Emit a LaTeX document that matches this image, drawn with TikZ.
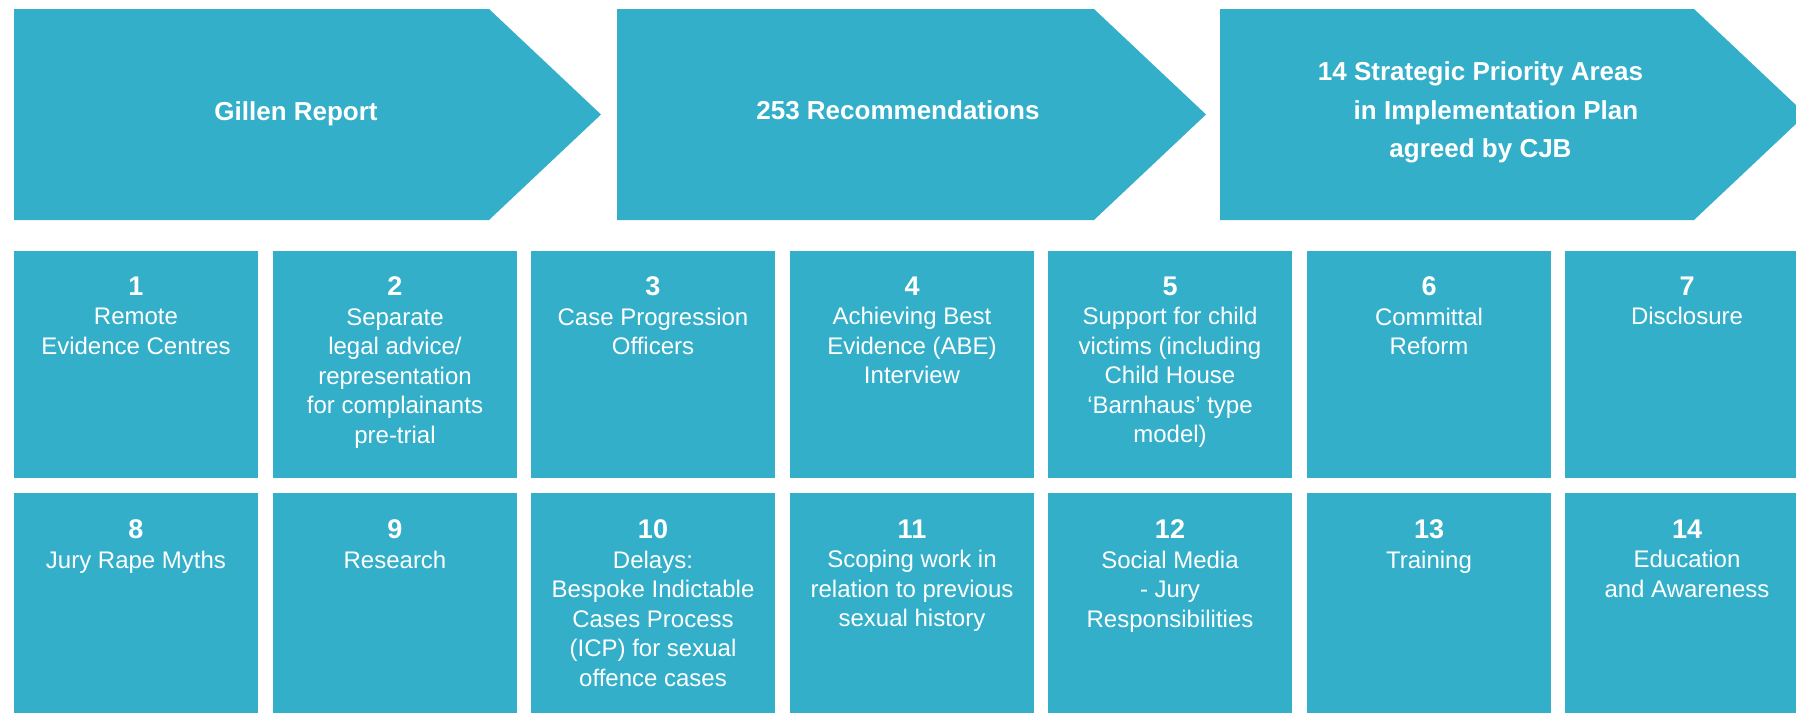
\documentclass[tikz,border=0pt]{standalone}
\usepackage{fontspec}
\setmainfont{Liberation Sans}
\usetikzlibrary{calc}
\definecolor{tealbox}{RGB}{51,175,201}
\newcommand\cellnum[1]{{\bfseries\fontsize{27}{29.5}\selectfont #1}}
\begin{document}
\begin{tikzpicture}[x=1pt,y=-1pt,
  arrowshape/.style={fill=tealbox, draw=none},
  cell/.style={rectangle, fill=tealbox, draw=none, minimum width=244pt, minimum height=227pt, inner sep=0pt, outer sep=0pt, anchor=north west},
  celltext/.style={anchor=north, inner sep=0pt, text=white, align=center, font=\fontsize{24}{29.5}\selectfont},
  titletext/.style={inner sep=0pt, text=white, align=center, font=\bfseries\fontsize{26}{38.5}\selectfont}]
\useasboundingbox (0,0) rectangle (1796,712);
\clip (0,0) rectangle (1796,712);

% chevron arrows
\fill[arrowshape] (14,9) -- (489,9) -- (601,114.5) -- (489,220) -- (14,220) -- cycle;
\fill[arrowshape] (617,9) -- (1094,9) -- (1206,114.5) -- (1094,220) -- (617,220) -- cycle;
\fill[arrowshape] (1220,9) -- (1694,9) -- (1806,114.5) -- (1694,220) -- (1220,220) -- cycle;
\node[titletext, anchor=base] (t1) at (296,120.5) {Gillen Report};
\node[titletext, anchor=base] (t2) at (898,119.5) {253 Recommendations};
\node[titletext, anchor=north] (t3) at (1480.5,61.5) {14 Strategic Priority Areas\\\hspace*{31pt}in Implementation Plan\\agreed by CJB};

% row 1
\node[cell] (b1) at (14,251) {};
\node[cell] (b2) at (273,251) {};
\node[cell] (b3) at (531,251) {};
\node[cell] (b4) at (790,251) {};
\node[cell] (b5) at (1048,251) {};
\node[cell] (b6) at (1307,251) {};
\node[cell] (b7) at (1565,251) {};
% row 2
\node[cell] (b8) at (14,493) {};
\node[cell] (b9) at (273,493) {};
\node[cell] (b10) at (531,493) {};
\node[cell] (b11) at (790,493) {};
\node[cell] (b12) at (1048,493) {};
\node[cell] (b13) at (1307,493) {};
\node[cell] (b14) at (1565,493) {};

\node[celltext] (l1) at ($(b1.north)+(0,25.5)$) {\cellnum{1}\\Remote\\Evidence Centres};
\node[celltext] (l2) at ($(b2.north)+(0,25.5)$) {\cellnum{2}\\Separate\\legal advice/\\representation\\for complainants\\pre-trial};
\node[celltext] (l3) at ($(b3.north)+(0,25.5)$) {\cellnum{3}\\Case Progression\\Officers};
\node[celltext] (l4) at ($(b4.north)+(0,25.5)$) {\cellnum{4}\\Achieving Best\\Evidence (ABE)\\Interview};
\node[celltext] (l5) at ($(b5.north)+(0,25.5)$) {\cellnum{5}\\Support for child\\victims (including\\Child House\\‘Barnhaus’ type\\model)};
\node[celltext] (l6) at ($(b6.north)+(0,25.5)$) {\cellnum{6}\\Committal\\Reform};
\node[celltext] (l7) at ($(b7.north)+(0,25.5)$) {\cellnum{7}\\Disclosure};

\node[celltext] (l8) at ($(b8.north)+(0,26.5)$) {\cellnum{8}\\Jury Rape Myths};
\node[celltext] (l9) at ($(b9.north)+(0,26.5)$) {\cellnum{9}\\Research};
\node[celltext] (l10) at ($(b10.north)+(0,26.5)$) {\cellnum{10}\\Delays:\\Bespoke Indictable\\Cases Process\\(ICP) for sexual\\offence cases};
\node[celltext] (l11) at ($(b11.north)+(0,26.5)$) {\cellnum{11}\\Scoping work in\\relation to previous\\sexual history};
\node[celltext] (l12) at ($(b12.north)+(0,26.5)$) {\cellnum{12}\\Social Media\\- Jury\\Responsibilities};
\node[celltext] (l13) at ($(b13.north)+(0,26.5)$) {\cellnum{13}\\Training};
\node[celltext] (l14) at ($(b14.north)+(0,26.5)$) {\cellnum{14}\\Education\\and Awareness};
\end{tikzpicture}
\end{document}
